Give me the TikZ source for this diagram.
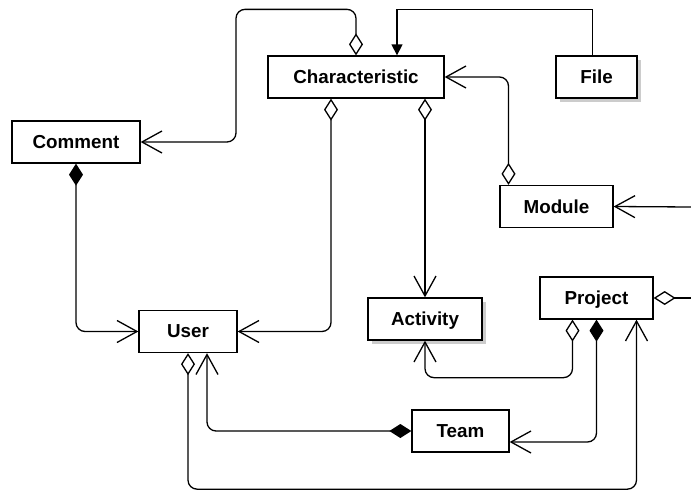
\documentclass[tikz,border=0pt]{standalone}
\usepackage{fontspec}
\setmainfont{Liberation Sans}
\usetikzlibrary{arrows.meta,shadows,calc}
\begin{document}
\begin{tikzpicture}[x=1pt,y=-1pt,
  cls/.style={draw,line width=1.3pt,fill=white,minimum height=42pt,
    inner sep=0pt,text depth=0pt,font=\fontsize{18.8}{22}\selectfont\bfseries},
  shade/.style={drop shadow={shadow xshift=3.5pt,shadow yshift=-3.5pt,
    opacity=1,fill=black!20}},
  link/.style={line width=1.3pt,rounded corners=9pt},
  openhead/.tip={Straight Barb[length=20pt,width=22pt]},
  agghead/.tip={Diamond[open,length=22pt,width=14pt]},
  comphead/.tip={Diamond[length=22pt,width=14pt]},
  agg/.style={link,{agghead}-{openhead}},
  comp/.style={link,{comphead}-{openhead}},
  assoc/.style={link,-{openhead}}]
\useasboundingbox (0,0) rectangle (691,490);

% classes
\node[cls,minimum width=176pt] (char) at (356,77) {Characteristic};
\node[cls,shade,minimum width=81pt] (file) at (596.5,77) {File};
\node[cls,minimum width=128pt] (com) at (76,142) {Comment};
\node[cls,minimum width=113pt] (mod) at (556.5,206.5) {Module};
\node[cls,minimum width=98pt] (user) at (188,331.5) {User};
\node[cls,shade,minimum width=114pt] (act) at (425,319) {Activity};
\node[cls,minimum width=113pt] (proj) at (596.5,298) {Project};
\node[cls,minimum width=97pt] (team) at (460.5,431) {Team};

% loose ends leaving the right border
\coordinate (modin) at (691,207);
\coordinate (projout) at (691,298);

% associations
\draw[agg] (char.north) -- ++(0,-46) -- ++(-120,0) |- (com.east);
\draw[line width=1.3pt,-{Triangle[length=11pt,width=11pt]}]
  ([xshift=-4pt]file.north) -- ++(0,-46) -| ([xshift=41pt]char.north);
\draw[agg] ([xshift=-48pt]mod.north) |- (char.east);
\draw[assoc] (modin) -- (mod.east);
\draw[comp] (com.south) |- (user.west);
\draw[agg] ([xshift=-25pt]char.south) |- (user.east);
\draw[agg] (act.north |- char.south) -- (act.north);
\draw[agg] ([xshift=-24pt]proj.south) -- ++(0,58) -| (act.south);
\draw[comp] (team.west) -| ([xshift=19pt]user.south);
\draw[comp] (proj.south) |- ([yshift=-11pt]team.east);
\draw[agg] (user.south) -- ++(0,136) -| ([xshift=40pt]proj.south);
\draw[link,{agghead}-] (proj.east) -- (projout);
\end{tikzpicture}
\end{document}
